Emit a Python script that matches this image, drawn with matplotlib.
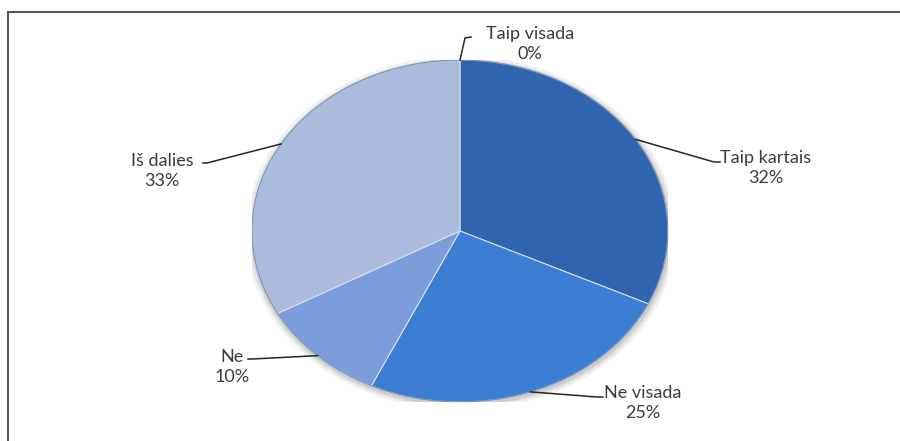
import numpy as np
import matplotlib
matplotlib.use('Agg')
from matplotlib import pyplot as plt
from matplotlib.patches import Rectangle, Ellipse

#== dados ==#
categorias = ['Taip visada', 'Taip kartais', 'Ne visada', 'Ne', 'Iš dalies']
valores = [0, 32, 25, 10, 33]
cores = ['#1f4f91', '#2f64ae', '#3b7ed3', '#7b9ddb', '#aabbdc']

# posicao dos rotulos (centro do bloco, pixels) e da linha guia
pos_rot = [(530, 44), (766, 168), (643, 403), (232, 367), (162, 171)]
cotovelo = [(465, 38), (714, 162), (597, 397), (252, 359), (207, 163)]
fim_linha = [(471, 37), (720, 162), (603, 397), (248, 359), (203, 163)]

plt.rcParams['font.family'] = ['Lato', 'DejaVu Sans']

W, H = 900, 441
fig = plt.figure(figsize=(9, 4.41), dpi=100)

# moldura (so esquerda e topo aparecem)
fig.patches.append(Rectangle((8 / W, -0.1), 1.2, (H - 12) / H + 0.1, transform=fig.transFigure,
                             fill=False, edgecolor='#555555', lw=1.5))

# pizza eliptica
cx, cy, rx, ry = 460, 231, 208, 171
ax = fig.add_axes([(cx - rx) / W, (H - cy - ry) / H, 2 * rx / W, 2 * ry / H])
# sombra suave
for k, a in [(0.035, 0.06), (0.022, 0.08), (0.01, 0.12)]:
    ax.add_patch(Ellipse((0.004, -0.012), 2 + 2 * k, 2 + 2 * k, color='#303030', alpha=a, lw=0))
fatias, _ = ax.pie(valores, colors=cores, startangle=90, counterclock=False,
                   wedgeprops=dict(edgecolor='#d5deee', linewidth=0.8))
ax.add_patch(Ellipse((0, 0), 2, 2, fill=False, edgecolor='#3f5f90', lw=0.8, alpha=0.6))
ax.set_aspect('auto')
ax.set_xlim(-1, 1)
ax.set_ylim(-1, 1)
ax.axis('off')

# camada de pixels para textos e linhas
ov = fig.add_axes([0, 0, 1, 1])
ov.set_xlim(0, W)
ov.set_ylim(H, 0)
ov.axis('off')
ov.patch.set_alpha(0)

for f, nome, v, p, c, e in zip(fatias, categorias, valores, pos_rot, cotovelo, fim_linha):
    ang = np.deg2rad((f.theta1 + f.theta2) / 2)
    xd, yd = ax.transData.transform((np.cos(ang), np.sin(ang)))
    x0, y0 = ov.transData.inverted().transform((xd, yd))
    ov.plot([x0, c[0], e[0]], [y0, c[1], e[1]], color='#262626', lw=1.1)
    ov.text(p[0], p[1], '{}\n{}%'.format(nome, v), ha='center', va='center',
            fontsize=13, color='#3c3c3c', linespacing=1.25)

plt.savefig('out.png', dpi=100)
